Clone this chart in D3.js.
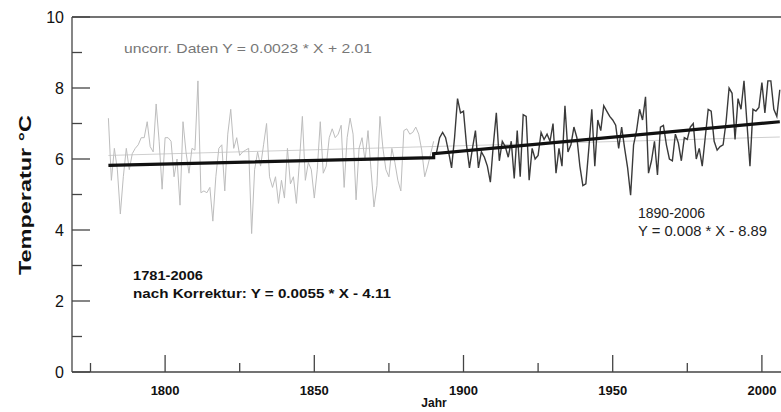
<!DOCTYPE html>
<html>
<head>
<meta charset="utf-8">
<script src="https://cdn.jsdelivr.net/npm/d3@7"></script>
<style>
  body { margin: 0; background: #fff; }
  text { font-family: "Liberation Sans", Arial, sans-serif; }
</style>
</head>
<body>
<div id="chart"></div>
<script>
// annual mean temperatures
var yearsOld = d3.range(1781, 1891); // uncorrected record, light grey
var tempsOld = [7.15, 5.4, 6.3, 5.7, 4.45, 5.5, 6.3, 5.7, 6.15, 6.3,
  6.4, 6.6, 6.6, 7.05, 6.35, 6.2, 7.55, 6.5, 5.15, 6.6,
  6.6, 6.5, 5.5, 6.0, 4.7, 7.05, 6.2, 5.6, 6.3, 6.25,
  8.2, 5.05, 5.1, 5.05, 5.2, 4.25, 5.5, 6.3, 6.4, 5.1,
  6.7, 7.4, 6.3, 6.6, 6.1, 6.2, 6.25, 6.3, 3.9, 5.7,
  6.2, 5.8, 6.4, 7.0, 5.5, 5.2, 5.5, 4.75, 5.4, 4.9,
  6.3, 5.3, 5.5, 4.75, 5.9, 7.2, 5.4, 5.9, 5.7, 4.9,
  5.7, 7.05, 5.6, 5.8, 6.6, 6.85, 6.6, 6.7, 6.95, 5.2,
  6.6, 7.15, 6.7, 4.85, 6.3, 6.6, 5.95, 6.8, 5.7, 4.65,
  5.25, 7.2, 6.3, 5.7, 5.5, 6.3, 5.9, 5.4, 5.1, 6.8,
  6.85, 6.7, 6.75, 6.9, 6.7, 6.25, 5.5, 5.8, 6.15, 6.5];

var yearsNew = d3.range(1890, 2007); // 1890-2006, dark line
var tempsNew = [6.1, 6.2, 6.6, 6.75, 6.6, 6.2, 5.75, 6.6, 7.7, 7.3,
  7.35, 6.4, 5.75, 6.3, 6.8, 5.75, 6.2, 6.05, 5.8, 5.35,
  6.4, 7.3, 5.95, 6.5, 6.35, 6.05, 6.5, 5.45, 6.8, 5.5,
  7.25, 7.2, 5.4, 6.3, 6.0, 6.1, 6.75, 6.55, 6.7, 6.5,
  7.0, 5.6, 6.3, 5.8, 7.5, 6.2, 6.4, 6.9, 6.6, 5.8,
  5.25, 5.3, 6.3, 7.4, 5.8, 7.1, 6.8, 7.5, 7.35, 7.2,
  7.1, 6.95, 6.3, 6.9, 6.3, 5.75, 4.98, 6.4, 6.8, 7.4,
  7.1, 7.75, 5.6, 5.95, 6.5, 5.55, 6.9, 6.95, 6.4, 6.0,
  5.95, 6.7, 6.45, 5.95, 6.6, 6.55, 6.9, 7.0, 6.0, 6.3,
  5.8, 6.6, 7.4, 7.35, 6.5, 6.25, 6.35, 6.4, 7.05, 8.0,
  7.85, 6.55, 7.7, 7.4, 8.2, 7.0, 5.8, 7.4, 7.35, 7.45,
  8.15, 7.3, 8.2, 8.2, 7.4, 7.2, 7.95];

// trend lines as drawn (start/end)
var trendUncorr = [[1781, 6.1], [2006, 6.62]];
var trendCorr = [[1781, 5.82], [1890, 6.04]];
var trendRecent = [[1890, 6.15], [2006, 7.05]];

var yTicks = [0, 2, 4, 6, 8, 10];
var yMinor = [1, 3, 5, 7, 9];
var xTicks = [1800, 1850, 1900, 1950, 2000];
var xMinor = [1775, 1825, 1875, 1925, 1975];

var width = 781,
    height = 412;

var x = d3.scaleLinear().domain([1768.8, 2006.4]).range([72, 781]);
var y = d3.scaleLinear().domain([0, 10]).range([372, 17]);

var svg = d3.select("#chart").append("svg")
  .attr("width", width)
  .attr("height", height);

var line = d3.line()
  .x(function(d) { return x(d[0]); })
  .y(function(d) { return y(d[1]); });

// faint uncorrected trend
svg.append("path")
  .attr("d", line(trendUncorr))
  .attr("fill", "none")
  .attr("stroke", "#cfcfcf")
  .attr("stroke-width", 1);

// old data
svg.append("path")
  .attr("d", line(d3.zip(yearsOld, tempsOld)))
  .attr("fill", "none")
  .attr("stroke", "#bdbdbd")
  .attr("stroke-width", 1);

// recent data
svg.append("path")
  .attr("d", line(d3.zip(yearsNew, tempsNew)))
  .attr("fill", "none")
  .attr("stroke", "#3a3a3a")
  .attr("stroke-width", 1.4);

// corrected trends, thick black
svg.append("path")
  .attr("d", line(trendCorr.concat(trendRecent)))
  .attr("fill", "none")
  .attr("stroke", "#111")
  .attr("stroke-width", 3.2);

// axes frame
var frame = svg.append("g").attr("stroke", "#444").attr("stroke-width", 1.3);
frame.append("line").attr("x1", 72).attr("x2", 72).attr("y1", 17).attr("y2", 372);
frame.append("line").attr("x1", 72).attr("x2", 781).attr("y1", 372).attr("y2", 372);
frame.append("line").attr("x1", 72).attr("x2", 781).attr("y1", 17).attr("y2", 17);

// y ticks (inward)
svg.append("g").selectAll("line").data(yTicks).enter().append("line")
  .attr("x1", 72).attr("x2", 90)
  .attr("y1", function(d) { return y(d); })
  .attr("y2", function(d) { return y(d); })
  .attr("stroke", "#444").attr("stroke-width", 1.3);
svg.append("g").selectAll("line").data(yMinor).enter().append("line")
  .attr("x1", 72).attr("x2", 82)
  .attr("y1", function(d) { return y(d); })
  .attr("y2", function(d) { return y(d); })
  .attr("stroke", "#444").attr("stroke-width", 1.3);
svg.append("g").selectAll("text").data(yTicks).enter().append("text")
  .attr("x", 64)
  .attr("y", function(d) { return y(d) + 6; })
  .attr("text-anchor", "end")
  .attr("font-size", 16)
  .attr("fill", "#111")
  .text(function(d) { return d; });

// x ticks (upward)
svg.append("g").selectAll("line").data(xTicks).enter().append("line")
  .attr("x1", function(d) { return x(d); })
  .attr("x2", function(d) { return x(d); })
  .attr("y1", 372).attr("y2", 355)
  .attr("stroke", "#444").attr("stroke-width", 1.3);
svg.append("g").selectAll("line").data(xMinor).enter().append("line")
  .attr("x1", function(d) { return x(d); })
  .attr("x2", function(d) { return x(d); })
  .attr("y1", 372).attr("y2", 363)
  .attr("stroke", "#444").attr("stroke-width", 1.3);
svg.append("g").selectAll("text").data(xTicks).enter().append("text")
  .attr("x", function(d) { return x(d); })
  .attr("y", 395)
  .attr("text-anchor", "middle")
  .attr("font-size", 13)
  .attr("font-weight", "bold")
  .attr("fill", "#111")
  .text(function(d) { return d; });

// axis titles
svg.append("text")
  .attr("transform", "translate(31,195) rotate(-90)")
  .attr("text-anchor", "middle")
  .attr("font-size", 17)
  .attr("font-weight", "bold")
  .attr("fill", "#111")
  .attr("textLength", 160)
  .attr("lengthAdjust", "spacingAndGlyphs")
  .text("Temperatur °C");
svg.append("text")
  .attr("x", 434).attr("y", 407)
  .attr("text-anchor", "middle")
  .attr("font-size", 12)
  .attr("font-weight", "bold")
  .attr("fill", "#111")
  .text("Jahr");

// annotations
svg.append("text")
  .attr("x", 124).attr("y", 53)
  .attr("font-size", 13)
  .attr("fill", "#777")
  .attr("textLength", 248)
  .attr("lengthAdjust", "spacingAndGlyphs")
  .text("uncorr. Daten Y = 0.0023 * X + 2.01");

svg.append("text")
  .attr("x", 133).attr("y", 280)
  .attr("font-size", 12)
  .attr("font-weight", "bold")
  .attr("fill", "#111")
  .attr("textLength", 70)
  .attr("lengthAdjust", "spacingAndGlyphs")
  .text("1781-2006");
svg.append("text")
  .attr("x", 133).attr("y", 298)
  .attr("font-size", 12)
  .attr("font-weight", "bold")
  .attr("fill", "#111")
  .attr("textLength", 258)
  .attr("lengthAdjust", "spacingAndGlyphs")
  .text("nach Korrektur: Y = 0.0055 * X - 4.11");

svg.append("text")
  .attr("x", 638).attr("y", 218)
  .attr("font-size", 14)
  .attr("fill", "#222")
  .text("1890-2006");
svg.append("text")
  .attr("x", 638).attr("y", 236)
  .attr("font-size", 14)
  .attr("fill", "#222")
  .attr("textLength", 129)
  .attr("lengthAdjust", "spacingAndGlyphs")
  .text("Y = 0.008 * X - 8.89");
</script>
</body>
</html>
